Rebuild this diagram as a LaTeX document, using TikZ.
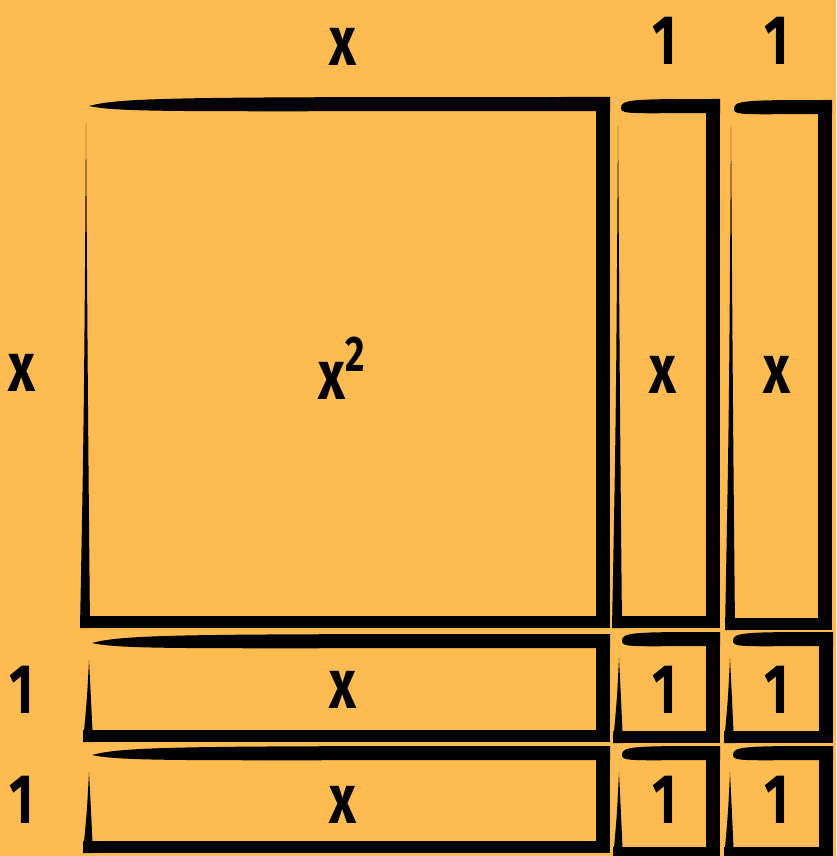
\documentclass[tikz,border=0pt]{standalone}
\usepackage{fontspec}
\setmainfont{Fira Sans}[FakeStretch=0.75]
\usepackage{tikz}
\usetikzlibrary{positioning, calc}
\definecolor{bgorange}{RGB}{253,187,81}

\begin{document}
\begin{tikzpicture}[
  x=1pt, y=-1pt,
  brush/.style={fill=black},
  lbl/.style={font=\fontsize{70}{70}\selectfont\bfseries, inner sep=0pt},
  pics/brushbox/.style 2 args={code={
    \fill[brush] (9,8) .. controls ({0.08*#1},-1) and ({0.2*#1},-1) .. (#1,-1)
      -- (#1,13) .. controls ({0.2*#1},13) and ({0.08*#1},15) .. cycle;
    \fill[brush] ({#1-14},-1) rectangle (#1,#2);
    \fill[brush] (0,{#2-12}) rectangle (#1,#2);
    \fill[brush] (6,25) .. controls (4,{0.6*#2}) .. (0,#2) -- (10,#2)
      .. controls (8,{0.6*#2}) .. cycle;
  }}
]

%% background
\fill[bgorange] (0,0) rectangle (836,856);
\useasboundingbox (0,0) rectangle (836,856);

%% tiles
\pic at (80,98)   {brushbox={530}{530}};
\pic at (612,100) {brushbox={108}{528}};
\pic at (725,101) {brushbox={107}{529}};
\pic at (83,635)  {brushbox={527}{107}};
\pic at (83,747)  {brushbox={527}{106}};
\pic at (613,633) {brushbox={107}{110}};
\pic at (724,633) {brushbox={109}{110}};
\pic at (613,747) {brushbox={107}{112}};
\pic at (724,747) {brushbox={109}{112}};

%% side labels
\node[lbl] (topx) at (343,47)  {x};
\node[lbl] (top1) at (665,41)  {1};
\node[lbl] (top2) at (777,41)  {1};
\node[lbl] (leftx) at (22,373) {x};
\node[lbl] (left1) at (22,690) {1};
\node[lbl] (left2) at (22,800) {1};

%% tile labels
\node[lbl] (sq)   at (342,368) {x\raisebox{0.40em}{\fontsize{50}{50}\selectfont 2}};
\node[lbl] (col1) at (663,375) {x};
\node[lbl] (col2) at (777,375) {x};
\node[lbl] (row1) at (343,690) {x};
\node[lbl] (row2) at (343,805) {x};
\node[lbl] (u11)  at (665,690) {1};
\node[lbl] (u12)  at (777,690) {1};
\node[lbl] (u21)  at (665,800) {1};
\node[lbl] (u22)  at (777,800) {1};

\end{tikzpicture}
\end{document}
